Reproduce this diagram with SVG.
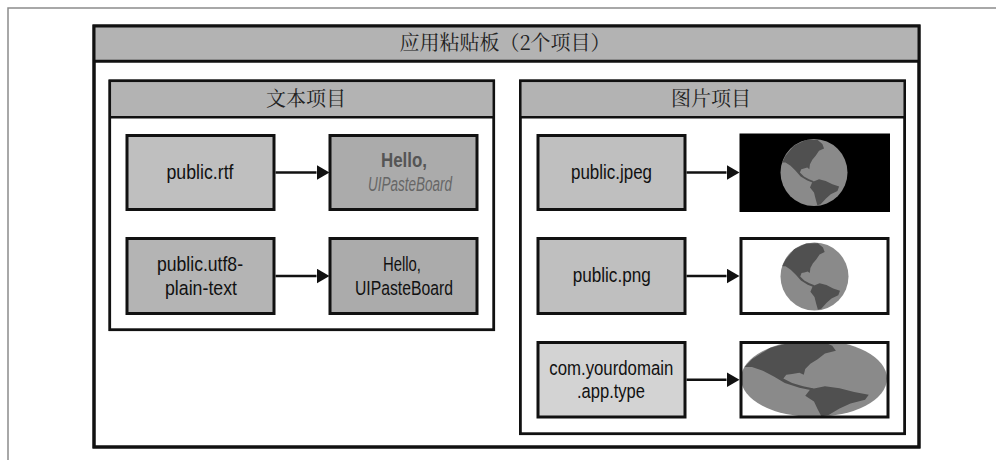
<svg xmlns="http://www.w3.org/2000/svg" xmlns:xlink="http://www.w3.org/1999/xlink" width="996" height="460" viewBox="0 0 996 460">
  <style>
    .frame { fill: #ffffff; stroke: #111111; stroke-width: 3; }
    .panel { fill: #ffffff; stroke: #111111; stroke-width: 2.5; }
    .band { fill: #b3b3b3; }
    .rule { stroke: #111111; stroke-width: 3; fill: none; }
    .rule-thin { stroke: #111111; stroke-width: 2.5; fill: none; }
    .key { fill: #bfbfbf; stroke: #111111; stroke-width: 3; }
    .key-mid { fill: #b4b4b4; stroke: #111111; stroke-width: 3; }
    .key-light { fill: #d3d3d3; stroke: #111111; stroke-width: 3; }
    .value { fill: #ababab; stroke: #111111; stroke-width: 3; }
    .pic { fill: #ffffff; stroke: #111111; stroke-width: 3; }
    .title { font-family: "Noto Serif CJK SC", "Noto Sans CJK SC", serif; font-size: 20px; fill: #222222; text-anchor: middle; }
    .lbl { font-family: "Liberation Sans", Arial, sans-serif; font-size: 20.5px; fill: #111111; text-anchor: middle; }
    .bold { font-weight: bold; fill: #555555; }
    .ital { font-style: italic; fill: #666666; }
    .link { stroke: #111111; stroke-width: 2.5; fill: none; marker-end: url(#head); }
    .ocean { fill: #8a8a8a; }
    .land { fill: #505050; }
  </style>
  <defs>
    <marker id="head" markerUnits="userSpaceOnUse" viewBox="0 0 13 15" markerWidth="13" markerHeight="15" refX="0" refY="7.5" orient="auto">
      <path d="M0,0 L13,7.5 L0,15 Z" fill="#111111"/>
    </marker>
    <!-- the Americas on a globe of radius 1 -->
    <g id="americas">
      <path class="land" d="M-0.85,-0.5 L-0.6,-0.8 L-0.25,-0.97 L0.1,-0.98 L0.25,-0.85 L0.3,-0.72 L0.15,-0.65 L0.05,-0.5 L-0.05,-0.38 L-0.12,-0.25 L-0.14,-0.1 L-0.2,-0.15 L-0.3,-0.12 L-0.38,-0.1 L-0.42,0 L-0.3,0.12 L-0.15,0.2 L0,0.26 L-0.05,0.3 L-0.2,0.24 L-0.4,0.12 L-0.55,-0.05 L-0.7,-0.2 L-0.85,-0.3 L-0.95,-0.3 Z"/>
      <path class="land" d="M-0.05,0.28 L0.15,0.2 L0.35,0.25 L0.55,0.35 L0.75,0.42 L0.7,0.55 L0.5,0.65 L0.35,0.78 L0.2,0.95 L0.1,0.98 L0.05,0.8 L0,0.6 L-0.12,0.45 Z"/>
    </g>
    <clipPath id="clip-wide">
      <rect x="741" y="342.5" width="147" height="74.5"/>
    </clipPath>
  </defs>

  <!-- page frame -->
  <path d="M8,460 V8 H996" fill="none" stroke="#8c8c8c" stroke-width="1.5"/>

  <!-- pasteboard container -->
  <g id="pasteboard">
    <rect class="frame" x="94" y="26" width="825" height="421"/>
    <rect class="band" x="94" y="26" width="825" height="35.5"/>
    <path class="rule" d="M94,61.3 H919"/>
    <rect x="94" y="26" width="825" height="421" fill="none" stroke="#111111" stroke-width="3"/>
    <text class="title" x="505" y="50">应用粘贴板（2个项目）</text>
  </g>

  <!-- text item panel -->
  <g id="text-item">
    <rect class="panel" x="109.8" y="80.8" width="384" height="249"/>
    <rect class="band" x="109.8" y="80.8" width="384" height="36.5"/>
    <path class="rule-thin" d="M109.8,117.3 H493.8"/>
    <rect x="109.8" y="80.8" width="384" height="249" fill="none" stroke="#111111" stroke-width="2.5"/>
    <text class="title" x="306" y="106">文本项目</text>
  </g>

  <!-- image item panel -->
  <g id="image-item">
    <rect class="panel" x="520.3" y="80.8" width="384.4" height="353"/>
    <rect class="band" x="520.3" y="80.8" width="384.4" height="36.5"/>
    <path class="rule-thin" d="M520.3,117.3 H904.7"/>
    <rect x="520.3" y="80.8" width="384.4" height="353" fill="none" stroke="#111111" stroke-width="2.5"/>
    <text class="title" x="711" y="106">图片项目</text>
  </g>

  <!-- text item representations -->
  <g id="rtf">
    <rect class="key" x="127" y="135.5" width="147" height="74"/>
    <text class="lbl" x="200" y="179" textLength="67" lengthAdjust="spacingAndGlyphs">public.rtf</text>
  </g>
  <g id="rtf-value">
    <rect class="value" x="330" y="135.5" width="147" height="74"/>
    <text class="lbl bold" x="404" y="167" textLength="46" lengthAdjust="spacingAndGlyphs">Hello,</text>
    <text class="lbl ital" x="410" y="191" textLength="84" lengthAdjust="spacingAndGlyphs">UIPasteBoard</text>
  </g>
  <g id="plain">
    <rect class="key-mid" x="127" y="238.5" width="147" height="75"/>
    <text class="lbl" x="200" y="271" textLength="86" lengthAdjust="spacingAndGlyphs">public.utf8-</text>
    <text class="lbl" x="201" y="295" textLength="72" lengthAdjust="spacingAndGlyphs">plain-text</text>
  </g>
  <g id="plain-value">
    <rect class="value" x="330" y="238.5" width="147" height="75"/>
    <text class="lbl" x="402" y="271" textLength="38" lengthAdjust="spacingAndGlyphs">Hello,</text>
    <text class="lbl" x="404" y="295" textLength="98" lengthAdjust="spacingAndGlyphs">UIPasteBoard</text>
  </g>

  <!-- image item representations -->
  <g id="jpeg">
    <rect class="key" x="538" y="135.5" width="147" height="74"/>
    <text class="lbl" x="611.5" y="179" textLength="81" lengthAdjust="spacingAndGlyphs">public.jpeg</text>
  </g>
  <g id="jpeg-value">
    <rect x="739.5" y="133.5" width="150.5" height="78.5" fill="#000000"/>
    <circle class="ocean" cx="814" cy="172.5" r="33.5"/>
    <use xlink:href="#americas" transform="translate(814,172.5) scale(33.5)"/>
  </g>
  <g id="png">
    <rect class="key" x="538" y="238.5" width="147" height="75"/>
    <text class="lbl" x="611.7" y="282" textLength="78" lengthAdjust="spacingAndGlyphs">public.png</text>
  </g>
  <g id="png-value">
    <rect class="pic" x="741" y="238.5" width="147" height="75"/>
    <circle class="ocean" cx="814.5" cy="276.5" r="34"/>
    <use xlink:href="#americas" transform="translate(814.5,276.5) scale(34)"/>
  </g>
  <g id="custom">
    <rect class="key-light" x="538" y="342.5" width="147" height="74.5"/>
    <text class="lbl" x="611.3" y="375" textLength="124" lengthAdjust="spacingAndGlyphs">com.yourdomain</text>
    <text class="lbl" x="611" y="398" textLength="68" lengthAdjust="spacingAndGlyphs">.app.type</text>
  </g>
  <g id="custom-value">
    <rect x="741" y="342.5" width="147" height="74.5" fill="#ffffff"/>
    <g clip-path="url(#clip-wide)">
      <ellipse class="ocean" cx="814" cy="378.5" rx="73" ry="38.5"/>
      <use xlink:href="#americas" transform="translate(814,378.5) scale(73,38.5)"/>
    </g>
    <rect x="741" y="342.5" width="147" height="74.5" fill="none" stroke="#111111" stroke-width="3"/>
  </g>

  <!-- connectors -->
  <g id="connectors">
    <path class="link" d="M275.5,172.5 H316.5"/>
    <path class="link" d="M275.5,276 H316.5"/>
    <path class="link" d="M686.5,172.5 H726.5"/>
    <path class="link" d="M686.5,276 H726.5"/>
    <path class="link" d="M686.5,379.7 H726.5"/>
  </g>
</svg>
